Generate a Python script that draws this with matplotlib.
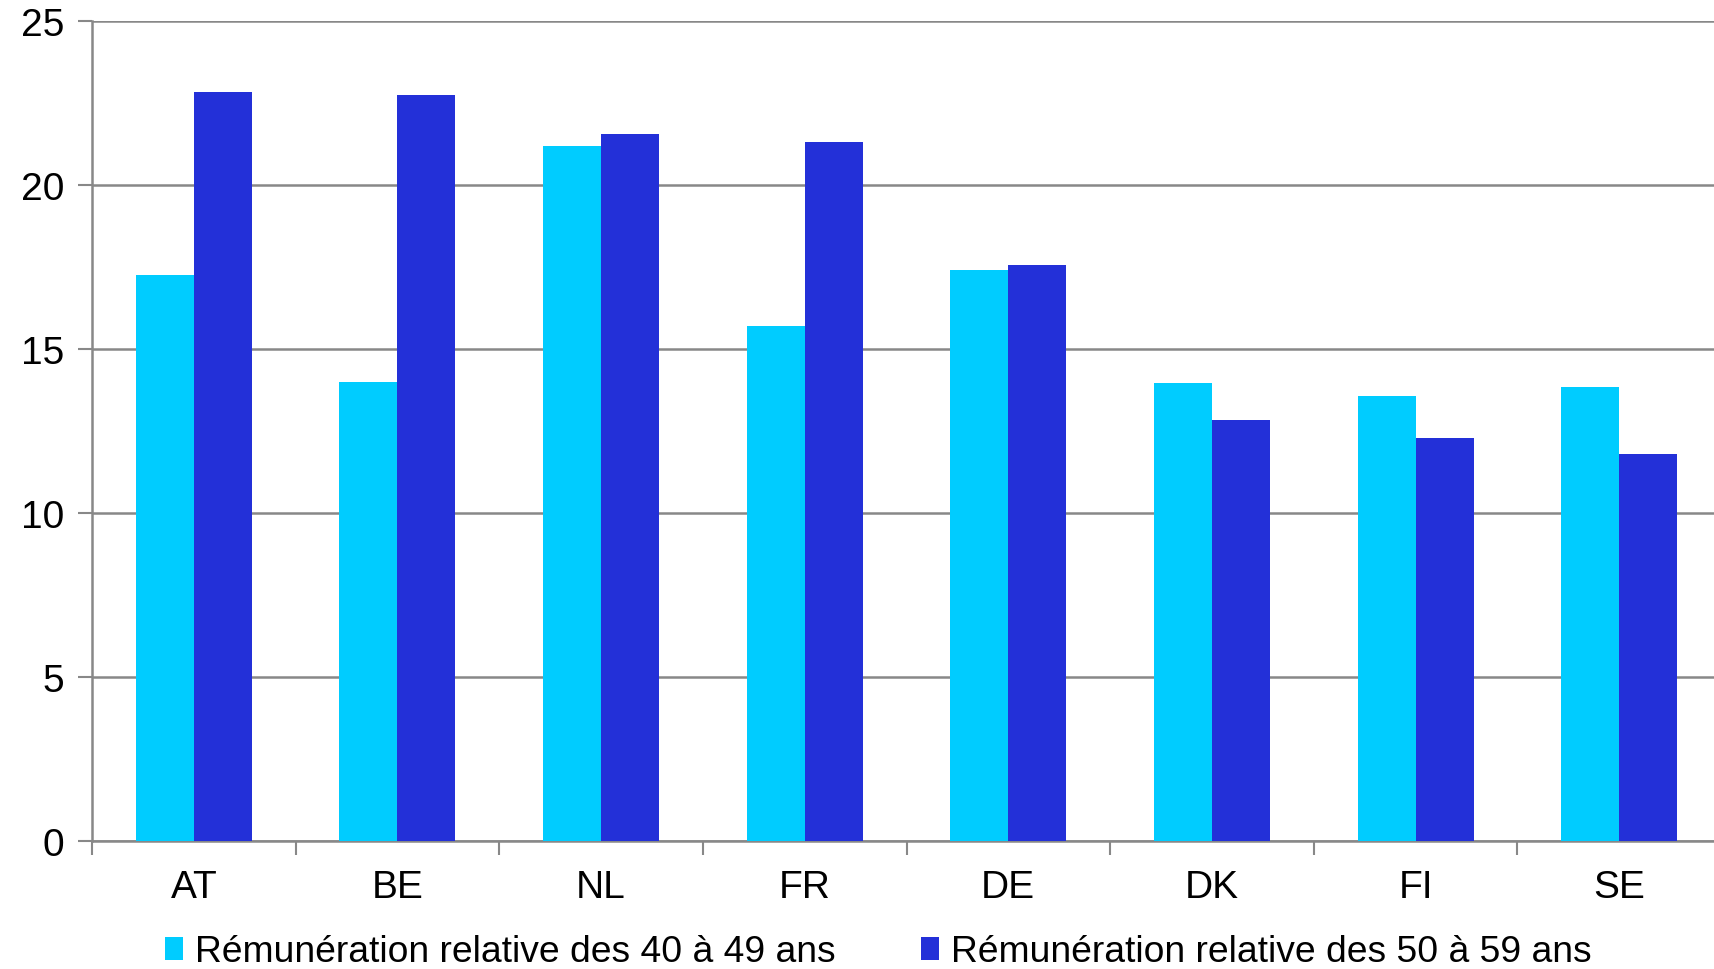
import matplotlib
matplotlib.use("Agg")
import matplotlib.pyplot as plt
import numpy as np
from matplotlib.patches import Patch

categories = ["AT", "BE", "NL", "FR", "DE", "DK", "FI", "SE"]
rem_40_49 = [17.25, 14.0, 21.2, 15.7, 17.4, 13.95, 13.57, 13.85]
rem_50_59 = [22.85, 22.75, 21.55, 21.3, 17.55, 12.85, 12.3, 11.8]
series_labels = ["Rémunération relative des 40 à 49 ans",
                 "Rémunération relative des 50 à 59 ans"]
yticks = [0, 5, 10, 15, 20, 25]

plt.rcParams['font.family'] = ['Liberation Sans', 'DejaVu Sans']

fig = plt.figure(figsize=(17.15, 9.70), dpi=100)
ax = fig.add_axes([92/1715, 128/970, 1629/1715, 820/970])

x = np.arange(len(categories))
w = 0.285
c1 = "#00CCFF"
c2 = "#2330D8"
ax.bar(x - w/2, rem_40_49, width=w, color=c1, zorder=3)
ax.bar(x + w/2, rem_50_59, width=w, color=c2, zorder=3)

ax.set_xlim(-0.5, len(categories) - 0.5)
ax.set_ylim(0, 25)
ax.set_yticks(yticks)
ax.set_yticklabels([str(t) for t in yticks])
ax.yaxis.grid(True, color="#888888", linewidth=1.8, zorder=0)
ax.set_axisbelow(True)

ax.set_xticks(x)
ax.set_xticklabels(categories)
ax.set_xticks(np.arange(len(categories) + 1) - 0.5, minor=True)
ax.tick_params(axis='x', which='major', length=0, pad=20, labelsize=28)
ax.tick_params(axis='x', which='minor', length=10, width=1.5, color="#888888", direction='out')
ax.tick_params(axis='y', length=10, width=1.5, color="#888888", labelsize=28, pad=10)

for s in ["top", "right"]:
    ax.spines[s].set_visible(False)
for s in ["left", "bottom"]:
    ax.spines[s].set_color("#888888")
    ax.spines[s].set_linewidth(1.8)

handles = [Patch(facecolor=c1, label=series_labels[0]),
           Patch(facecolor=c2, label=series_labels[1])]
fig.legend(handles=handles, loc="center", bbox_to_anchor=(878/1715, 1 - 953/970),
           ncol=2, frameon=False, fontsize=26.8, handlelength=0.5, handleheight=0.55,
           handletextpad=0.3, columnspacing=2.3)

fig.savefig("out.png", dpi=100)
